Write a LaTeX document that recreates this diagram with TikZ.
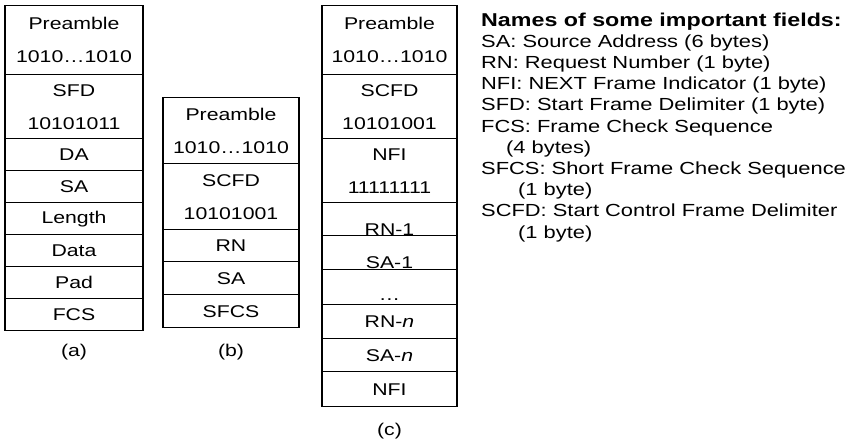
\documentclass[tikz,border=0pt]{standalone}
\usepackage{fontspec}
\setmainfont{Liberation Sans}[FakeStretch=1.25]
\begin{document}
\begin{tikzpicture}[x=1pt,y=-1pt,
  cell/.style={draw, line width=1.3pt, inner sep=0pt, anchor=north,
    align=center, font=\fontsize{17}{33}\selectfont},
  lbl/.style={inner sep=0pt, font=\fontsize{17}{20}\selectfont},
  note/.style={inner sep=0pt, anchor=base west, font=\fontsize{17.5}{21}\selectfont}]
\useasboundingbox (0,0) rectangle (849,445);

% ---- (a) data frame ----
\begin{scope}[every node/.append style={minimum width=138pt}]
\node[cell, minimum height=69pt] (a1) at (74,5) {Preamble\\1010…1010};
\node[cell, minimum height=64pt] (a2) at (74,74) {SFD\\10101011};
\node[cell, minimum height=32pt] (a3) at (74,138) {DA};
\node[cell, minimum height=32pt] (a4) at (74,170) {SA};
\node[cell, minimum height=32pt] (a5) at (74,202) {Length};
\node[cell, minimum height=32pt] (a6) at (74,234) {Data};
\node[cell, minimum height=32pt] (a7) at (74,266) {Pad};
\node[cell, minimum height=32pt] (a8) at (74,298) {FCS};
\end{scope}
\node[lbl] (capa) at (74,352) {(a)};

% ---- (b) short control frame ----
\begin{scope}[every node/.append style={minimum width=136pt}]
\node[cell, minimum height=66pt] (b1) at (231,97) {Preamble\\1010…1010};
\node[cell, minimum height=66pt] (b2) at (231,163) {SCFD\\10101001};
\node[cell, minimum height=32pt] (b3) at (231,229) {RN};
\node[cell, minimum height=33pt] (b4) at (231,261) {SA};
\node[cell, minimum height=33pt] (b5) at (231,294) {SFCS};
\end{scope}
\node[lbl] (capb) at (231,352) {(b)};

% ---- (c) long control frame ----
\begin{scope}[every node/.append style={minimum width=135pt}]
\node[cell, minimum height=69pt] (c1) at (389.5,5) {Preamble\\1010…1010};
\node[cell, minimum height=64pt] (c2) at (389.5,74) {SCFD\\10101001};
\node[cell, minimum height=64pt] (c3) at (389.5,138) {NFI\\11111111};
\node[cell, minimum height=33pt] (c4) at (389.5,202) {};
\node[cell, minimum height=34pt] (c5) at (389.5,235) {};
\node[cell, minimum height=35pt] (c6) at (389.5,269) {};
\node[cell, minimum height=34pt] (c7) at (389.5,304) {RN-\textit{n}};
\node[cell, minimum height=33pt] (c8) at (389.5,338) {SA-\textit{n}};
\node[cell, minimum height=35pt] (c9) at (389.5,371) {NFI};
\end{scope}
\node[lbl, anchor=base] (t4) at ([yshift=1pt]c4.south) {RN-1};
\node[lbl, anchor=base] (t5) at ([yshift=2pt]c5.south) {SA-1};
\node[lbl, anchor=base] (t6) at ([yshift=5pt]c6.south) {…};
\node[lbl] (capc) at (389.5,431) {(c)};

% ---- field names ----
\node[note, font=\fontsize{18.6}{21}\selectfont\bfseries] (h0) at (481,26) {Names of some important fields:};
\node[note] (n1) at (481,47.2) {SA: Source Address (6 bytes)};
\node[note] (n2) at (481,68.4) {RN: Request Number (1 byte)};
\node[note] (n3) at (481,89.6) {NFI: NEXT Frame Indicator (1 byte)};
\node[note] (n4) at (481,110.8) {SFD: Start Frame Delimiter (1 byte)};
\node[note] (n5) at (481,132) {FCS: Frame Check Sequence};
\node[note] (n6) at (506,153.2) {(4 bytes)};
\node[note] (n7) at (481,174.4) {SFCS: Short Frame Check Sequence};
\node[note] (n8) at (518,195.6) {(1 byte)};
\node[note] (n9) at (481,216.8) {SCFD: Start Control Frame Delimiter};
\node[note] (n10) at (518,238) {(1 byte)};
\end{tikzpicture}
\end{document}
